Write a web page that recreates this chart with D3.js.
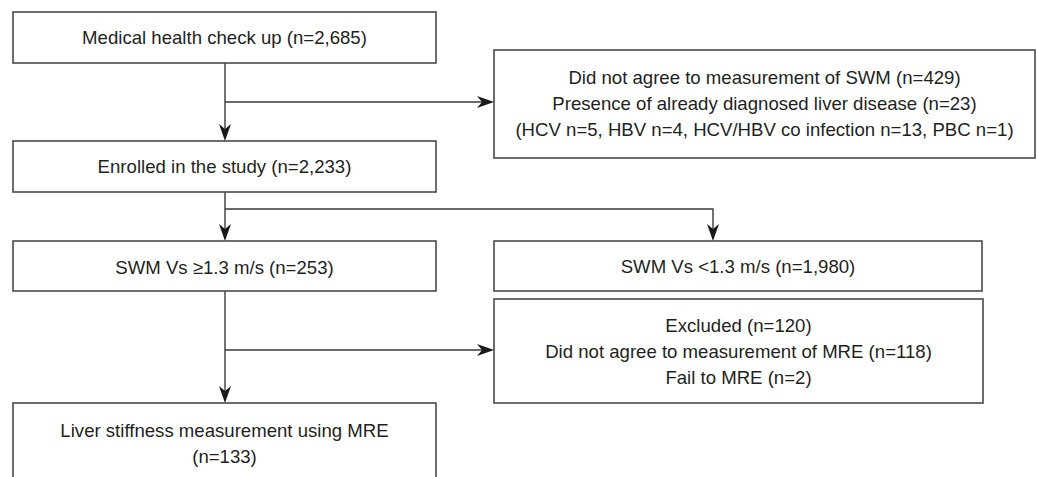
<!DOCTYPE html>
<html><head><meta charset="utf-8">
<script src="https://cdn.jsdelivr.net/npm/d3@7"></script>
<style>body{margin:0;background:#fff;}svg{display:block;}</style>
</head><body>
<svg id="c" width="1037" height="477"></svg>
<script>
// Flowchart content
const nodeIds = ["checkup","excl1","enrolled","swmHigh","swmLow","excl2","mre"];
const nodeLabels = [
  ["Medical health check up (n=2,685)"],
  ["Did not agree to measurement of SWM (n=429)",
   "Presence of already diagnosed liver disease (n=23)",
   "(HCV n=5, HBV n=4, HCV/HBV co infection n=13, PBC n=1)"],
  ["Enrolled in the study (n=2,233)"],
  ["SWM Vs \u22651.3 m/s (n=253)"],
  ["SWM Vs <1.3 m/s (n=1,980)"],
  ["Excluded (n=120)", "Did not agree to measurement of MRE (n=118)", "Fail to MRE (n=2)"],
  ["Liver stiffness measurement using MRE", "(n=133)"]
];
const counts = [2685, 452, 2233, 253, 1980, 120, 133];

// Layout (pixel geometry kept separate from data)
const layout = {
  checkup:  {x0:13,  x1:436,  y0:12,  y1:63},
  excl1:    {x0:494, x1:1035, y0:50,  y1:158},
  enrolled: {x0:13,  x1:436,  y0:141, y1:192},
  swmHigh:  {x0:13,  x1:436,  y0:241, y1:291},
  swmLow:   {x0:494, x1:982,  y0:241, y1:291},
  excl2:    {x0:494, x1:983,  y0:299, y1:403},
  mre:      {x0:13,  x1:436,  y0:403, y1:492}
};
const lineGap = 26;
const textOffset = {mre: -4, excl1: -1, swmHigh: 1};

const svg = d3.select("#c");
const nodes = nodeIds.map((id,i)=>({id, lines:nodeLabels[i], n:counts[i], ...layout[id]}));

// connectors
const cx = 225;
const links = [
  {pts:[[cx,63],[cx,141]], arrow:"down"},
  {pts:[[cx,102],[494,102]], arrow:"right"},
  {pts:[[cx,192],[cx,241]], arrow:"down"},
  {pts:[[cx,209],[713,209],[713,241]], arrow:"down"},
  {pts:[[cx,291],[cx,403]], arrow:"down"},
  {pts:[[cx,350],[494,350]], arrow:"right"}
];
const line = d3.line();
svg.append("g").selectAll("path").data(links).join("path")
  .attr("d", d=>{
    const p = d.pts.map(q=>q.slice());
    const last = p[p.length-1];
    if(d.arrow==="down") last[1]-=8; else last[0]-=8;
    return line(p);
  })
  .attr("fill","none").attr("stroke","#3a3a3a").attr("stroke-width",1.4);

// arrowheads (stealth style)
function head(tip, dir){
  const L=17, W=6, N=5;
  const [x,y]=tip;
  if(dir==="down") return `M${x},${y} L${x-W},${y-L} L${x},${y-L+N} L${x+W},${y-L} Z`;
  return `M${x},${y} L${x-L},${y-W} L${x-L+N},${y} L${x-L},${y+W} Z`;
}
svg.append("g").selectAll("path").data(links).join("path")
  .attr("d", d=>head(d.pts[d.pts.length-1], d.arrow))
  .attr("fill","#1a1a1a");

// boxes
const g = svg.append("g").selectAll("g").data(nodes).join("g");
g.append("rect")
  .attr("x",d=>d.x0).attr("y",d=>d.y0)
  .attr("width",d=>d.x1-d.x0).attr("height",d=>d.y1-d.y0)
  .attr("fill","#fff").attr("stroke","#4a4a4a").attr("stroke-width",1.6);

g.each(function(d){
  const sel = d3.select(this);
  const cxm = (d.x0+d.x1)/2;
  const cym = (d.y0+d.y1)/2 + (textOffset[d.id]||0);
  const nL = d.lines.length;
  sel.selectAll("text").data(d.lines).join("text")
    .attr("x",cxm)
    .attr("y",(t,i)=> cym + (i-(nL-1)/2)*lineGap)
    .attr("dy","0.35em")
    .attr("text-anchor","middle")
    .attr("font-family","'Liberation Sans', Arial, Helvetica, sans-serif")
    .attr("font-size",18.6)
    .attr("fill","#231f20")
    .text(t=>t);
});
</script>
</body></html>
